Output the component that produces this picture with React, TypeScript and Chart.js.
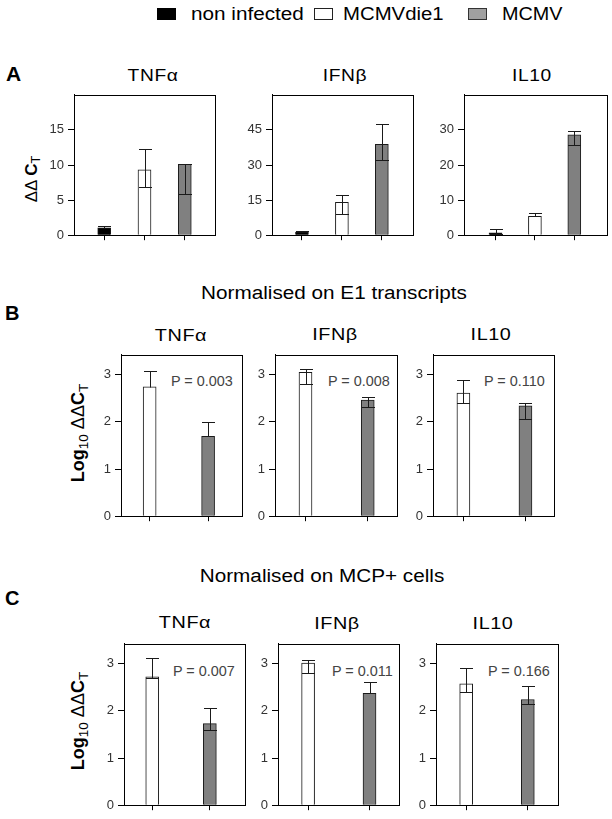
import React, { useEffect, useRef } from 'react';
import { Chart, registerables } from 'chart.js';

Chart.register(...registerables);

// ---------- data ----------
const GENES = ['TNFα', 'IFNβ', 'IL10'];
const GROUPS = ['non infected', 'MCMVdie1', 'MCMV'];
const GROUP_COLORS = ['#000000', '#ffffff', '#808080'];

// Panel A: ΔΔCT (non infected, MCMVdie1, MCMV) per gene
const A_MEAN = [[1.05, 9.3, 10.1], [1.3, 14.0, 38.8], [0.7, 5.4, 28.6]];
const A_PLUS = [[0.25, 3.0, 0.1], [0.4, 3.1, 8.6], [1.0, 0.8, 1.2]];
const A_MINUS = [[0, 2.4, 4.3], [0, 4.8, 6.6], [0.5, 0, 3.0]];
const A_TICKS = [[0, 5, 10, 15], [0, 15, 30, 45], [0, 10, 20, 30]];
const A_MAX = [20, 60, 40];

// Panel B: Log10 ΔΔCT normalised on E1 transcripts (MCMVdie1, MCMV)
const B_MEAN = [[2.74, 1.69], [3.05, 2.46], [2.61, 2.34]];
const B_PLUS = [[0.33, 0.31], [0.06, 0.06], [0.27, 0.06]];
const B_MINUS = [[0, 0], [0.24, 0.15], [0.21, 0.29]];
const B_P = ['P = 0.003', 'P = 0.008', 'P = 0.110'];

// Panel C: Log10 ΔΔCT normalised on MCP+ cells (MCMVdie1, MCMV)
const C_MEAN = [[2.72, 1.73], [3.01, 2.37], [2.57, 2.24]];
const C_PLUS = [[0.39, 0.33], [0.06, 0.24], [0.33, 0.28]];
const C_MINUS = [[0.02, 0.14], [0.2, 0], [0.17, 0.1]];
const C_P = ['P = 0.007', 'P = 0.011', 'P = 0.166'];

const BC_TICKS = [0, 1, 2, 3];
const BC_MAX = 3.42;

// ---------- layout ----------
const FONT = '"Liberation Sans", Arial, Helvetica, sans-serif';
const YW = 40;
const PT = 10;
const PR = 4;
const XH = 10;

type Box = { l: number; r: number; t: number; b: number; xmin: number; xmax: number };

const A_BOX: Box[] = [
  { l: 74, r: 215, t: 93, b: 237, xmin: 0.25, xmax: 3.75 },
  { l: 272, r: 413, t: 93, b: 237, xmin: 0.25, xmax: 3.78 },
  { l: 464, r: 607, t: 93, b: 237, xmin: 0.2, xmax: 3.83 },
];
const B_BOX: Box[] = [
  { l: 121, r: 242, t: 353, b: 518, xmin: 0.51, xmax: 2.58 },
  { l: 275, r: 397, t: 353, b: 518, xmin: 0.51, xmax: 2.47 },
  { l: 433, r: 554, t: 353, b: 518, xmin: 0.51, xmax: 2.46 },
];
const C_BOX: Box[] = [
  { l: 124, r: 245, t: 642, b: 807, xmin: 0.51, xmax: 2.61 },
  { l: 278, r: 399, t: 642, b: 807, xmin: 0.51, xmax: 2.48 },
  { l: 436, r: 558, t: 642, b: 807, xmin: 0.51, xmax: 2.49 },
];

type PanelProps = {
  box: Box;
  means: number[];
  plus: number[];
  minus: number[];
  colors: string[];
  ticks: number[];
  max: number;
};

function Panel({ box, means, plus, minus, colors, ticks, max }: PanelProps) {
  const ref = useRef<HTMLCanvasElement>(null);
  const w = YW + (box.r - box.l) + PR;
  const h = PT + (box.b - box.t) + XH;

  useEffect(() => {
    const canvas = ref.current;
    if (!canvas) return;
    const errPlugin = {
      id: 'errbarsbox',
      afterDatasetsDraw(chart: any) {
        const ctx = chart.ctx;
        const meta = chart.getDatasetMeta(0);
        const ys = chart.scales.y;
        ctx.save();
        ctx.strokeStyle = '#1a1a1a';
        ctx.lineWidth = 1;
        meta.data.forEach((el: any, i: number) => {
          const x = Math.round(el.x) + 0.5;
          const hw = el.width / 2;
          const yT = Math.round(ys.getPixelForValue(means[i] + plus[i])) + 0.5;
          const yB = Math.round(ys.getPixelForValue(means[i] - minus[i])) + 0.5;
          ctx.beginPath();
          ctx.moveTo(x, yB);
          ctx.lineTo(x, yT);
          ctx.moveTo(x - hw, yT);
          ctx.lineTo(x + hw, yT);
          if (minus[i] > 0) {
            ctx.moveTo(x - hw, yB);
            ctx.lineTo(x + hw, yB);
          }
          ctx.stroke();
        });
        const a = chart.chartArea;
        ctx.strokeStyle = '#000';
        ctx.strokeRect(
          Math.round(a.left) + 0.5,
          Math.round(a.top) + 0.5,
          Math.round(a.right - a.left),
          Math.round(a.bottom - a.top)
        );
        ctx.restore();
      },
    };
    const chart = new Chart(canvas, {
      type: 'bar',
      data: {
        datasets: [
          {
            data: means.map((v, i) => ({ x: i + 1, y: v })),
            backgroundColor: colors,
            borderColor: '#1a1a1a',
            borderWidth: 1,
            barThickness: 13,
          } as any,
        ],
      },
      options: {
        responsive: false,
        animation: false,
        devicePixelRatio: 1,
        layout: { padding: { top: PT, right: PR, left: 0, bottom: 0 } },
        plugins: { legend: { display: false }, tooltip: { enabled: false } },
        scales: {
          x: {
            type: 'linear',
            offset: false,
            min: box.xmin,
            max: box.xmax,
            afterBuildTicks: (s: any) => {
              s.ticks = means.map((_, i) => ({ value: i + 1 }));
            },
            afterFit: (s: any) => {
              s.height = XH;
            },
            ticks: { display: false },
            grid: {
              display: true,
              offset: false,
              drawOnChartArea: false,
              drawTicks: true,
              tickLength: 5,
              color: '#000',
            },
            border: { display: true, color: '#000', width: 1 },
          },
          y: {
            type: 'linear',
            min: 0,
            max,
            afterBuildTicks: (s: any) => {
              s.ticks = ticks.map((v) => ({ value: v }));
            },
            afterFit: (s: any) => {
              s.width = YW;
            },
            ticks: { font: { family: FONT, size: 13 }, color: '#333', padding: 4 },
            grid: { display: true, drawOnChartArea: false, drawTicks: true, tickLength: 6, color: '#000' },
            border: { display: true, color: '#000', width: 1 },
          },
        },
      } as any,
      plugins: [errPlugin],
    });
    return () => chart.destroy();
  }, []);

  return (
    <canvas
      ref={ref}
      width={w}
      height={h}
      style={{ position: 'absolute', left: box.l - YW, top: box.t - PT, width: w, height: h }}
    />
  );
}

type TxtProps = {
  x: number;
  y: number;
  size: number;
  bold?: boolean;
  sx?: number;
  ls?: number;
  anchor?: 'center' | 'left';
  color?: string;
  rotate?: boolean;
  children: React.ReactNode;
};

function Txt({ x, y, size, bold = false, sx = 1, ls = 0, anchor = 'center', color = '#000', rotate = false, children }: TxtProps) {
  const tx = anchor === 'center' ? '-50%' : '0';
  const transform = rotate
    ? 'translate(-50%,-50%) rotate(-90deg)'
    : `translate(${tx},-50%) scaleX(${sx})`;
  return (
    <div
      style={{
        position: 'absolute',
        left: x,
        top: y,
        fontFamily: FONT,
        fontSize: size,
        fontWeight: bold ? 700 : 400,
        letterSpacing: ls,
        lineHeight: 1,
        whiteSpace: 'nowrap',
        color,
        transform,
        transformOrigin: anchor === 'center' || rotate ? 'center' : 'left center',
      }}
    >
      {children}
    </div>
  );
}

const subStyle: React.CSSProperties = { fontSize: '0.75em', verticalAlign: '-0.3em', lineHeight: 0 };

function LegendBox({ x, color, border }: { x: number; color: string; border: string }) {
  return (
    <div
      style={{
        position: 'absolute',
        left: x,
        top: 8,
        width: 19,
        height: 12,
        background: color,
        border: `1px solid ${border}`,
        boxSizing: 'border-box',
      }}
    />
  );
}

const A_TITLE_POS = [[152.5, 75.7], [345.3, 75.7], [531.7, 75.7]];
const B_TITLE_POS = [[180.8, 335], [335, 334.2], [490.8, 334]];
const C_TITLE_POS = [[184.7, 622], [336.7, 623.3], [493.3, 623]];
const B_P_POS = [[170.7, 381.3], [327.7, 381.2], [484.3, 381.2]];
const C_P_POS = [[173.3, 670.5], [332.3, 670.5], [487.7, 670.5]];

export default function App() {
  const logTitle = (
    <span>
      <b>Log</b>
      <span style={subStyle}>10</span> ΔΔ<b>C</b>
      <span style={subStyle}>T</span>
    </span>
  );
  return (
    <div
      style={{
        position: 'absolute',
        left: 0,
        top: 0,
        width: 612,
        height: 819,
        background: '#fff',
        overflow: 'hidden',
      }}
    >
      {/* legend */}
      <LegendBox x={157} color={GROUP_COLORS[0]} border="#000" />
      <Txt x={191} y={14} size={18} sx={1.15} anchor="left">{GROUPS[0]}</Txt>
      <LegendBox x={314} color={GROUP_COLORS[1]} border="#222" />
      <Txt x={343} y={14} size={18} sx={1.13} anchor="left">{GROUPS[1]}</Txt>
      <LegendBox x={468} color="#a0a0a0" border="#333" />
      <Txt x={502} y={14} size={18} sx={1.1} anchor="left">{GROUPS[2]}</Txt>

      {/* section letters */}
      <Txt x={6} y={72.5} size={21} bold anchor="left">A</Txt>
      <Txt x={5} y={313} size={20} bold anchor="left">B</Txt>
      <Txt x={5} y={598} size={20} bold anchor="left">C</Txt>

      {/* section titles */}
      <Txt x={333.8} y={293} size={18} sx={1.15}>Normalised on E1 transcripts</Txt>
      <Txt x={322} y={576.3} size={18} sx={1.15}>Normalised on MCP+ cells</Txt>

      {/* y axis titles */}
      <Txt x={30.8} y={178.5} size={17} rotate>
        <span>
          ΔΔ <b>C</b>
          <span style={subStyle}>T</span>
        </span>
      </Txt>
      <Txt x={77.5} y={432.5} size={18} rotate>{logTitle}</Txt>
      <Txt x={77.8} y={720.8} size={18} rotate>{logTitle}</Txt>

      {/* panel titles */}
      {GENES.map((g, i) => (
        <React.Fragment key={g}>
          <Txt x={A_TITLE_POS[i][0]} y={A_TITLE_POS[i][1]} size={16} sx={1.2} ls={0.5}>{g}</Txt>
          <Txt x={B_TITLE_POS[i][0]} y={B_TITLE_POS[i][1]} size={16.5} sx={1.2} ls={0.5}>{g}</Txt>
          <Txt x={C_TITLE_POS[i][0]} y={C_TITLE_POS[i][1]} size={16.5} sx={1.2} ls={0.5}>{g}</Txt>
          <Txt x={B_P_POS[i][0]} y={B_P_POS[i][1]} size={14} sx={1.03} anchor="left" color="#444">{B_P[i]}</Txt>
          <Txt x={C_P_POS[i][0]} y={C_P_POS[i][1]} size={14} sx={1.03} anchor="left" color="#444">{C_P[i]}</Txt>
        </React.Fragment>
      ))}

      {/* charts */}
      {GENES.map((g, i) => (
        <React.Fragment key={'c' + g}>
          <Panel
            box={A_BOX[i]}
            means={A_MEAN[i]}
            plus={A_PLUS[i]}
            minus={A_MINUS[i]}
            colors={GROUP_COLORS}
            ticks={A_TICKS[i]}
            max={A_MAX[i]}
          />
          <Panel
            box={B_BOX[i]}
            means={B_MEAN[i]}
            plus={B_PLUS[i]}
            minus={B_MINUS[i]}
            colors={GROUP_COLORS.slice(1)}
            ticks={BC_TICKS}
            max={BC_MAX}
          />
          <Panel
            box={C_BOX[i]}
            means={C_MEAN[i]}
            plus={C_PLUS[i]}
            minus={C_MINUS[i]}
            colors={GROUP_COLORS.slice(1)}
            ticks={BC_TICKS}
            max={BC_MAX}
          />
        </React.Fragment>
      ))}
    </div>
  );
}
